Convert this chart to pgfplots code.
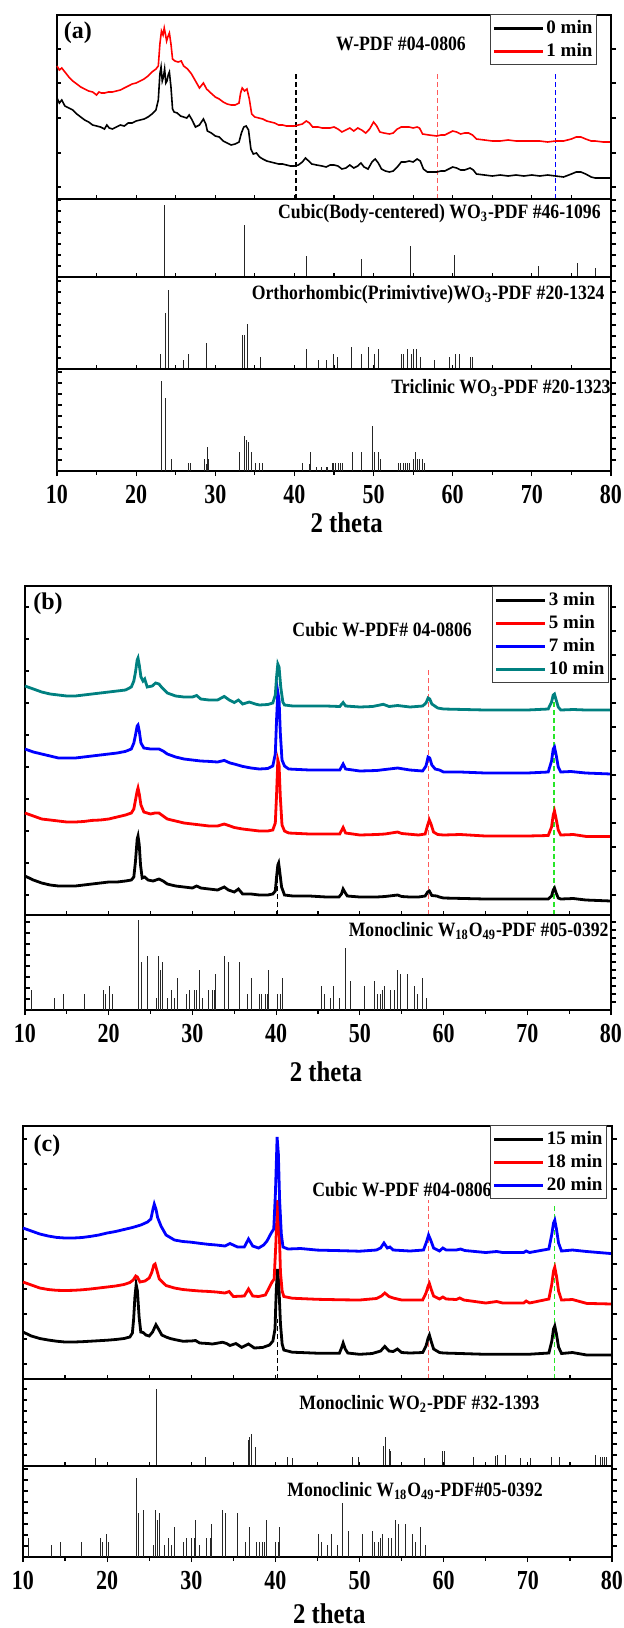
\documentclass[border=0pt]{standalone}
\usepackage{fontspec}
\setmainfont{Liberation Serif}
\usepackage{graphicx}
\usepackage{pgfplots}
\pgfplotsset{compat=1.18}
\newcommand\st[1]{\scalebox{1}[1.15]{#1}}
\newcommand\tk[1]{\scalebox{1}[1.25]{#1}}
\definecolor{tealc}{RGB}{0,128,128}
\definecolor{dred}{RGB}{255,90,90}
\definecolor{dgreen}{RGB}{40,230,40}
\tikzset{
  ann/.style={font=\fontsize{8.85}{9}\selectfont\bfseries, inner sep=0pt},
  lab/.style={font=\fontsize{12}{12}\selectfont\bfseries, inner sep=0pt},
  xl/.style={font=\fontsize{12.4}{12.4}\selectfont\bfseries, inner sep=0pt},
}
\pgfplotsset{
  xrd/.style={scale only axis, anchor=north west, xmin=10, xmax=80, ymin=0, clip=false,
    axis line style={line width=0.8pt},
    xtick={10,15,...,80}, xtick pos=left, xticklabels={}, ytick pos=left, yticklabels={},
    tick align=inside, major tick length=2.2pt, minor tick length=1.8pt,
    tick style={black, line width=0.6pt}},
  bottomx/.style={xtick={10,20,...,80}, minor xtick={15,25,...,75}, xtick pos=left,
    tick align=outside, major tick length=2.5pt, y tick style={xshift=2.5pt},
    xticklabel={\tk{\pgfmathprintnumber[assume math mode=true]{\tick}}},
    xticklabel style={font=\fontsize{11}{11}\selectfont\bfseries, inner sep=0pt, yshift=-4.3pt}},
  rt/.style={scale only axis, anchor=north west, xmin=10, xmax=80, ymin=0,
    hide x axis, axis y line*=right, axis line style={line width=0.8pt},
    yticklabels={}, tick align=outside, major tick length=2.5pt,
    tick style={black, line width=0.6pt}},
  stick/.style={ycomb, black!85, line width=0.5pt, mark=none},
  leg/.style={legend style={at={(1,1)}, anchor=north east, draw=black!75, line width=0.6pt,
     font=\fontsize{9.5}{9.5}\selectfont\bfseries, inner xsep=1pt, inner ysep=1pt, row sep=#1,
     nodes={inner sep=1pt, text height=7.5pt, text depth=2pt}, cells={anchor=west}},
     legend image code/.code={\draw[##1, line width=1.6pt] (0pt,0pt) -- (24.5pt,0pt);}},
  thin/.style={line width=0.8pt, mark=none},
  thick2/.style={line width=1.4pt, mark=none},
  dsh/.style={dash pattern=on 2.5pt off 1.5pt, line width=0.6pt, forget plot, mark=none},
}
\begin{document}
\begin{tikzpicture}
\useasboundingbox (0,0) rectangle (311.5pt,-814pt);
%================ (a) main
\begin{axis}[xrd, at={(28.5pt,-7.5pt)}, width=277pt, height=92pt, ymax=184,
  ytick={12,46,81,116,150}, leg=0pt, legend style={xshift=-7pt, yshift=0.5pt}]
\addplot[dsh, black] coordinates {(40.2,0) (40.2,128)};
\addplot[dsh, dred] coordinates {(58.1,0) (58.1,128)};
\addplot[dsh, blue] coordinates {(72.95,0) (72.95,128)};
\addplot[thin, black] coordinates {(10,101) (10.3,96) (10.6,99) (11,93) (11.5,91) (12,89) (12.5,85) (13,82) (13.5,79) (14,77) (14.5,74) (15,73) (15.5,72) (16,70) (16.3,74) (16.6,71) (17,70) (17.5,72) (18,74) (18.5,73) (19,76) (19.5,76) (20,78) (20.5,79) (21,80) (21.5,82) (22,85) (22.5,89) (22.8,99) (23.0,125) (23.15,132) (23.3,118) (23.45,122) (23.6,130) (23.75,116) (23.9,118) (24.05,124) (24.2,127) (24.4,112) (24.6,90) (24.8,87) (25.2,86) (25.6,83) (26,82) (26.4,81) (26.7,84) (27,80) (27.5,72) (28,74) (28.5,80) (28.8,75) (29,68) (29.5,66) (30,63) (30.5,62) (31,58) (31.5,56) (32,54) (32.5,55) (33,57) (33.3,66) (33.6,72) (33.9,73) (34.2,69) (34.5,50) (34.8,45) (35.2,46) (35.6,42) (36,40) (36.5,38) (37,37) (37.5,36) (38,35) (38.5,35) (39,34) (39.5,33) (40,33) (40.5,34) (41,37) (41.4,41) (41.8,38) (42.2,35) (42.8,34) (43.5,33) (44,32) (44.5,34) (45,34) (45.5,33) (46,30) (46.5,31) (47,34) (47.5,31) (48,33) (48.4,36) (48.8,32) (49.3,30) (49.8,37) (50.2,40) (50.6,36) (51,30) (51.5,28) (52,27) (52.5,28) (53,32) (53.5,37) (54,37) (54.5,38) (55,37) (55.5,40) (55.9,38) (56.3,30) (56.8,27) (57.5,27) (58,27) (58.5,28) (59,28) (59.5,30) (60,32) (60.5,31) (61,29) (61.5,29) (62.2,31) (62.6,29) (63,25) (64,24) (65,23) (66,24) (67,23) (68,24) (69,23) (70,24) (71,23) (72,24) (73,23) (74,22) (75,25) (75.6,27) (76.2,27) (76.8,25) (77.5,22) (78,21) (79,21) (80,21)};
\addlegendentry{0 min}
\addplot[thin, red] coordinates {(10,133) (10.3,129) (10.6,131) (11,127) (11.5,122) (12,118) (12.5,115) (13,112) (13.5,110) (14,108) (14.5,107) (15,104) (15.3,107) (15.6,106) (16,106) (16.5,107) (17,107) (17.5,108) (18,109) (18.5,111) (19,113) (19.5,115) (20,116) (20.5,118) (21,120) (21.5,123) (22,127) (22.5,130) (22.8,133) (23.0,155) (23.2,168) (23.4,164) (23.55,171) (23.7,165) (23.85,158) (24.0,162) (24.2,166) (24.4,155) (24.6,140) (24.9,138) (25.3,137) (25.7,138) (26,133) (26.5,130) (27,125) (27.5,118) (28,111) (28.5,116) (28.9,110) (29.3,107) (30,102) (30.5,100) (31,97) (31.5,95) (32,94) (32.5,94) (33,96) (33.2,106) (33.4,111) (33.7,108) (34,110) (34.3,100) (34.6,85) (35,82) (35.5,81) (36,80) (36.5,78) (37,77) (37.5,76) (38,74) (38.5,74) (39,73) (39.5,73) (40,73) (40.5,74) (41,75) (41.5,78) (41.9,76) (42.3,72) (43,72) (43.5,71) (44,71) (44.5,71) (45,72) (45.5,70) (46,67) (46.5,69) (47,71) (47.5,68) (48,71) (48.5,69) (49,66) (49.5,70) (50,77) (50.4,73) (50.8,67) (51.3,66) (52,65) (52.5,66) (53,70) (53.5,72) (54,72) (54.5,72) (55,71) (55.5,72) (55.8,71) (56.2,65) (57,64) (58,63) (58.5,64) (59,64) (59.5,66) (60,68) (60.5,67) (61,65) (61.5,66) (62,66) (62.5,64) (63,60) (64,59) (65,58) (66,58) (67,59) (68,58) (69,58) (70,58) (71,58) (72,57) (73,58) (74,58) (75,60) (75.6,62) (76.2,62) (76.8,60) (77.5,58) (78,58) (79,57) (80,57)};
\addlegendentry{1 min}
\node[lab] at (axis cs:12.65,166) {(a)};
\node[ann] at (axis cs:53.47,155) {\st{W-PDF \#04-0806}};
\end{axis}
\begin{axis}[rt, at={(28.5pt,-7.5pt)}, width=277pt, height=92pt, ymax=184, ytick={12,46,81,116,150}]
\addplot[draw=none] coordinates {(10,0)};
\end{axis}
%================ (a) cubic
\begin{axis}[xrd, at={(28.5pt,-99.5pt)}, width=277pt, height=39pt, ymax=78, ytick={11,22,...,77}]
\addplot[stick] coordinates {(23.6,72) (33.65,52) (41.5,21) (48.5,18) (54.7,31) (60.25,22) (70.8,11) (75.8,14) (78.1,9)};
\node[ann, anchor=east] at (axis cs:78.74,63) {\st{Cubic(Body-centered) WO\textsubscript{3}-PDF \#46-1096}};
\end{axis}
\begin{axis}[rt, at={(28.5pt,-99.5pt)}, width=277pt, height=39pt, ymax=78, ytick={11,22,...,77}]
\addplot[draw=none] coordinates {(10,0)};
\end{axis}
%================ (a) orthorhombic
\begin{axis}[xrd, at={(28.5pt,-138.5pt)}, width=277pt, height=46pt, ymax=92, ytick={11,22,...,88}]
\addplot[stick] coordinates {(23.1,15.5) (23.75,56) (24.15,79) (26.0,8.6) (26.6,15.5) (28.83,26.5) (33.4,34.5) (33.67,34.5) (34.07,45.5) (35.7,12) (41.58,19.7) (43.1,9.3) (44.1,9.3) (44.95,15.5) (45.5,12) (47.27,22.4) (48.5,15.5) (49.4,22.4) (50.1,15.5) (50.6,19.7) (53.56,15.5) (53.8,15.5) (54.3,19.7) (54.8,15.5) (55.1,19.7) (55.4,19.7) (55.9,12) (57.74,9.3) (59.6,12) (60.36,15.5) (60.9,15.5) (62.2,12) (62.5,12)};
\node[ann, anchor=east] at (axis cs:79.24,74) {\st{Orthorhombic(Primivtive)WO\textsubscript{3}-PDF \#20-1324}};
\end{axis}
\begin{axis}[rt, at={(28.5pt,-138.5pt)}, width=277pt, height=46pt, ymax=92, ytick={11,22,...,88}]
\addplot[draw=none] coordinates {(10,0)};
\end{axis}
%================ (a) triclinic
\begin{axis}[xrd, bottomx, at={(28.5pt,-184.5pt)}, width=277pt, height=51pt, ymax=102, ytick={11,22,...,99}]
\addplot[stick] coordinates {(10.1,100) (23.25,90) (23.75,72.8) (24.5,12.4) (26.57,8.3) (26.9,8.3) (28.6,12.4) (28.83,7.2) (29.0,23.8) (29.2,12.4) (33.07,18.6) (33.72,34.8) (33.97,30.7) (34.17,29) (34.58,18.6) (35.08,8.3) (35.58,8.3) (36.0,8.3) (41.07,8.3) (41.88,7.2) (42.03,18.6) (42.73,4) (43.4,4) (44.0,4) (44.24,4) (44.75,8.3) (45.0,8.3) (45.25,8.3) (45.6,8.3) (45.86,8.3) (46.1,8.3) (47.3,18.6) (48.48,18.6) (49.89,45.5) (50.14,18.6) (50.64,18.6) (50.9,12.4) (53.1,8.3) (53.46,8.3) (53.8,8.3) (54.06,8.3) (54.3,8.3) (54.57,8.3) (55.07,12.4) (55.3,18.6) (55.58,12.4) (55.83,12.4) (56.18,12.4) (56.43,8.3)};
\node[ann, anchor=east] at (axis cs:80,83) {\st{Triclinic WO\textsubscript{3}-PDF \#20-1323}};
\node[xl] at (axis cs:46.6,0) [yshift=-26pt] {\st{2 theta}};
\end{axis}
\begin{axis}[rt, at={(28.5pt,-184.5pt)}, width=277pt, height=51pt, ymax=102, ytick={11,22,...,99}]
\addplot[draw=none] coordinates {(10,0)};
\end{axis}
%================ (b) main
\begin{axis}[xrd, at={(12.5pt,-293pt)}, width=293pt, height=164.5pt, ymax=329,
  ytick={20,52,...,320}, leg=0pt, legend style={xshift=-1pt}]
\addplot[dsh, black] coordinates {(40.2,0) (40.2,50)};
\addplot[dsh, dred] coordinates {(58.2,0) (58.2,248)};
\addplot[dsh, dgreen] coordinates {(73.2,0) (73.2,221)};
\addplot[thick2, black] coordinates {(10,39) (11,35) (12,32) (13,30) (14,29) (15,29) (16,29) (17,30) (18,31) (19,32) (20,33) (21,33) (22,34) (22.7,35) (23.0,38) (23.2,54) (23.4,76) (23.5,79) (23.65,70) (23.8,50) (24.0,37) (24.3,38) (24.7,35) (25.3,34) (26,36) (26.5,34) (27,31) (28,29) (29,28) (30,27) (30.5,29) (31,27) (32,26) (33,25) (33.8,28) (34.3,25) (35,23) (35.5,26) (36,21) (37,21) (38,20) (39,20) (39.6,21) (39.9,24) (40.05,38) (40.2,50) (40.3,52) (40.45,42) (40.65,28) (41,20) (42,19) (44,19) (46,18) (47.5,18) (47.8,21) (48.0,26) (48.2,23) (48.5,19) (50,18) (52,18) (53,18.5) (54.5,20) (55,18.5) (56,18) (57,18) (57.8,19) (58.1,23) (58.3,24) (58.6,19.5) (59.2,19) (59.5,18) (60,17) (65,16) (70,16) (72.5,16) (72.9,19) (73.1,25) (73.25,27) (73.45,22) (73.7,17) (74,16) (75.5,16.5) (77,15) (80,14)};
\addlegendentry{3 min}
\addplot[thick2, red] coordinates {(10,102) (11,99) (12,96) (13,95) (14,94) (15,93) (16,93) (17,93.5) (18,94.6) (19,95) (20,96) (21,98) (22,100) (22.7,102) (23.0,106) (23.2,115) (23.4,124) (23.5,127) (23.65,121) (23.85,110) (24.2,103) (25,101) (25.5,102) (26,102) (26.5,99) (27,96) (28,94) (29,92) (30,91) (31,90) (32,89) (33,89) (33.8,91) (34.5,89) (35,87.5) (36,86) (37,85) (38,84) (39,84) (39.6,85) (39.9,92) (40.05,120) (40.2,155) (40.35,150) (40.5,118) (40.7,90) (41,84) (41.5,82) (44,81) (46,81) (47.6,81) (48.0,87.5) (48.3,82) (50,80) (52,80.5) (53,81) (54.5,83) (55,81.5) (57,80) (57.8,81) (58.1,90) (58.3,95) (58.5,91) (58.8,83) (59.3,80.5) (60,80) (62,80.5) (65,79) (70,79) (72.5,79.5) (72.9,88) (73.1,100) (73.25,104) (73.45,96) (73.7,85) (74,80) (75.5,80.5) (77,78.6) (80,78.6)};
\addlegendentry{5 min}
\addplot[thick2, blue] coordinates {(10,166) (11,163) (12,161) (13,159) (14,157) (15,157) (16,157) (17,158) (18,159) (19,160) (20,161) (21,162) (22,163.6) (22.7,166) (23.0,172) (23.2,180) (23.4,189) (23.5,190) (23.65,184) (23.85,172) (24.2,167) (25,166) (25.5,166) (26,166) (26.5,164) (27,161) (28,158) (29,156) (30,155) (31,154) (32,153.6) (33,153) (33.8,154.6) (34.5,152) (35,151) (36,148.6) (37,147) (38,146) (39,146.5) (39.6,149) (39.9,161) (40.05,195) (40.2,223) (40.35,215) (40.5,182) (40.7,155) (41,149) (41.5,146) (44,145) (46,145) (47.6,145) (48.0,151) (48.3,146) (50,144) (52,144.5) (54.5,147) (56,145) (57.5,144) (57.9,149) (58.15,158) (58.35,157) (58.6,150) (59,146) (59.5,145) (60,143) (62,143) (65,142) (70,142) (72.5,143) (72.9,154) (73.1,166) (73.25,168) (73.45,160) (73.7,148) (74,143) (75.2,143.5) (77,142) (80,141)};
\addlegendentry{7 min}
\addplot[thick2, tealc] coordinates {(10,229) (11,226) (12,223) (13,221) (14,220) (15,219) (16,219) (17,220) (18,221) (19,222) (20,223) (21,224) (22,225) (22.7,228) (23.0,234) (23.2,243) (23.4,255) (23.5,257) (23.65,250) (23.85,238) (24.1,234) (24.3,236) (24.6,228) (25.2,229) (25.6,232) (26.0,231) (26.4,227) (27,222) (28,219) (29,218) (30,218) (30.5,219.5) (31,216) (32,215) (33,215) (33.8,218.6) (34.4,215) (35,212.5) (35.5,215) (36,211) (36.8,213) (37.5,211) (38,210) (39,210.5) (39.6,212) (39.9,220) (40.05,238) (40.2,251) (40.35,248) (40.55,228) (40.8,213) (41,210) (42,209) (44,209) (46,209) (47.6,208.5) (48.0,212.5) (48.3,209) (50,208) (51.5,208.5) (52.8,210.7) (53.5,208.5) (54.5,209.5) (56,208) (57.5,209) (57.9,212) (58.15,217) (58.35,216) (58.6,211) (59.3,207) (60,206) (65,205) (70,205) (72.5,206) (72.9,213) (73.1,220) (73.25,221) (73.45,215) (73.7,208) (74,205) (75.5,205.5) (77,205) (80,205)};
\addlegendentry{10 min}
\node[lab] at (axis cs:12.75,311) {(b)};
\node[ann] at (axis cs:52.66,285) {\st{Cubic W-PDF\# 04-0806}};
\end{axis}
\begin{axis}[rt, at={(12.5pt,-293pt)}, width=293pt, height=164.5pt, ymax=329, ytick={20,44,...,320}]
\addplot[draw=none] coordinates {(10,0)};
\end{axis}
%================ (b) sticks
\begin{axis}[xrd, bottomx, at={(12.5pt,-457.5pt)}, width=293pt, height=47.5pt, ymax=95, ytick={11,22,...,88}]
\addplot[stick] coordinates {(10.76,20) (13.58,12.5) (14.58,16) (17.07,16) (19.36,20) (19.6,16) (20.08,24) (20.46,16) (23.6,90) (23.94,48) (24.6,53.6) (25.66,12) (26.0,53.6) (26.24,40) (26.43,48) (27.05,12) (27.48,20) (27.86,12) (28.2,32) (29.34,16) (29.68,20) (30.3,20) (30.53,20) (30.82,40) (31.25,12) (31.97,20) (32.35,20) (32.59,20) (32.73,36) (33.88,53.6) (34.3,48) (35.64,48) (36.6,16) (37.08,32) (38.03,16) (38.27,16) (38.75,16) (38.94,16) (39.13,40) (40.18,16) (40.5,16) (40.75,32) (45.39,24) (45.72,16) (46.44,12) (46.9,24) (47.58,12) (48.25,62) (48.87,28.6) (50.5,24) (51.69,28.6) (52.07,16) (52.5,16) (52.69,20) (52.98,24) (53.7,20) (54.08,20) (54.5,40) (54.9,36) (55.75,36) (56.47,24) (56.9,16) (57.52,32) (58.0,12)};
\node[ann, anchor=east] at (axis cs:79.76,79) {\st{Monoclinic W\textsubscript{18}O\textsubscript{49}-PDF \#05-0392}};
\node[xl] at (axis cs:45.95,0) [yshift=-31pt] {\st{2 theta}};
\end{axis}
\begin{axis}[rt, at={(12.5pt,-457.5pt)}, width=293pt, height=47.5pt, ymax=95, ytick={8,16,...,92}]
\addplot[draw=none] coordinates {(10,0)};
\end{axis}
%================ (c) main
\begin{axis}[xrd, at={(11.5pt,-563pt)}, width=294.5pt, height=126.5pt, ymax=253,
  ytick={15,40,...,240}, leg=0pt, legend style={xshift=-2.5pt, yshift=0.5pt}]
\addplot[dsh, black] coordinates {(40.2,0) (40.2,60)};
\addplot[dsh, dred] coordinates {(58.2,0) (58.2,178.7)};
\addplot[dsh, dgreen] coordinates {(73.15,0) (73.15,175)};
\addplot[thick2, black] coordinates {(10,47) (11,43) (12,40.5) (13,39) (14,37.8) (15,37) (16,37) (17,37.3) (18,37.8) (19,38.3) (20,38.8) (21,39.5) (22,40.5) (22.7,42) (23.0,46) (23.15,60) (23.3,82) (23.45,94.5) (23.6,88) (23.8,62) (24.0,47) (24.3,46.4) (24.6,44) (25,43) (25.4,47) (25.8,54.3) (26.1,50) (26.5,44) (27,42) (27.5,40.5) (28,39.5) (29,37.8) (30,38) (30.5,38.5) (31,36) (32,35.5) (32.5,35) (33.2,36) (33.7,36.8) (34.2,35.5) (34.6,33.5) (35.3,35.5) (36,31.6) (36.8,35) (37.5,31) (38.5,31.6) (39.3,34) (39.7,38) (39.95,50) (40.1,89) (40.25,110) (40.4,95) (40.6,55) (40.8,35) (41,29) (42,26.8) (43,26.5) (45,25.8) (47.6,25.8) (47.9,32) (48.05,36) (48.3,30) (48.6,26) (50,24.7) (51.5,25.5) (52.5,28) (53,32.6) (53.5,28) (54,27.5) (54.5,30) (55,26.5) (56,26) (57.5,26.5) (57.9,33) (58.15,41) (58.3,44) (58.5,38) (58.8,30) (59.5,26.5) (60,26) (62,25.5) (65,24.7) (70,24.7) (72.5,26) (72.85,38) (73.05,50) (73.2,53) (73.4,45) (73.65,32) (74,25.5) (75.3,26.5) (77,24) (80,24)};
\addlegendentry{15 min}
\addplot[thick2, red] coordinates {(10,97) (11,94) (12,91) (13,89.5) (14,88.7) (15,88.5) (16,88.7) (17,89.2) (18,90) (19,91) (20,92) (21,93) (22,94.5) (22.7,96.5) (23.1,99) (23.4,103) (23.6,102) (23.9,97) (24.5,98) (25.0,101) (25.3,106.5) (25.55,114) (25.7,115) (25.9,109) (26.2,100) (27,93.5) (28,91) (29,89.5) (30,88.7) (31,88) (32,87.6) (33,87) (34,86) (34.5,87.5) (35,82.5) (36.3,83) (36.8,90) (37.3,83) (38,82.5) (38.8,84) (39.3,92) (39.6,97) (39.85,100) (40.05,135) (40.25,178.7) (40.4,165) (40.6,106.5) (40.8,88) (41,82.5) (42,80.8) (45,79.7) (48,79.2) (50,79) (52,80.5) (52.6,83) (53,86) (53.5,82.5) (54,81) (55,79) (57.5,79) (57.9,86) (58.15,93) (58.3,95.5) (58.5,90) (58.8,83) (59.5,80) (59.9,82) (60.3,80) (61.5,79.5) (61.9,81) (62.4,79) (65,76) (66.3,77.5) (67,76) (69.5,76) (69.8,78) (70.2,76) (72.5,80) (72.85,95) (73.05,108) (73.2,111.7) (73.4,103) (73.65,88) (74,79) (75.3,79.5) (77,75.6) (80,75)};
\addlegendentry{18 min}
\addplot[thick2, blue] coordinates {(10,151) (11,148) (12,145) (13,143) (14,141.6) (15,141) (16,141) (17,141.5) (18,142.6) (19,144) (20,146) (21,147.5) (22,149.5) (23,151.5) (24,154) (24.8,157) (25.2,160) (25.45,170) (25.6,175) (25.8,170) (26.0,161.5) (26.4,153) (27,144) (28,139) (29,137.5) (30,136.8) (31,135.7) (32,134.7) (33,134) (34,133) (34.6,135.5) (35.5,132) (36.3,132) (36.8,140) (37.3,133) (38,131) (38.6,134) (39,138) (39.5,146) (39.8,150) (40.0,185.6) (40.2,242) (40.35,225) (40.5,178.7) (40.7,145) (40.9,132) (41.5,130) (43,130.5) (45,128.9) (48,128.3) (50,127.8) (52,129) (52.5,131) (52.9,136) (53.3,131) (53.6,132) (54,129) (56,128) (57.6,129) (57.95,137) (58.2,144) (58.45,139) (58.8,131) (59.5,128) (59.9,131) (60.3,129) (61.5,129) (62,130) (62.5,128.5) (65,126.5) (66.3,127.5) (67,126.5) (69.5,126.5) (69.8,128) (70.2,126.5) (72.5,130) (72.85,145) (73.05,156) (73.2,158.8) (73.4,150) (73.65,136) (74,128) (75.3,129) (77,127.5) (80,125.4)};
\addlegendentry{20 min}
\node[lab] at (axis cs:12.85,233) {(c)};
\node[ann] at (axis cs:55.04,189) {\st{Cubic W-PDF \#04-0806}};
\end{axis}
\begin{axis}[rt, at={(11.5pt,-563pt)}, width=294.5pt, height=126.5pt, ymax=253, ytick={15,40,...,240}]
\addplot[draw=none] coordinates {(10,0)};
\end{axis}
%================ (c) WO2
\begin{axis}[xrd, at={(11.5pt,-689.5pt)}, width=294.5pt, height=43.5pt, ymax=87, ytick={11,22,...,77}]
\addplot[stick] coordinates {(18.59,8) (25.9,77) (31.69,8.6) (36.77,25.8) (36.96,29) (37.15,32) (37.62,19) (41.42,8.6) (42.08,8) (49.2,8.6) (49.82,8.6) (52.9,20) (53.05,29) (53.52,17) (53.66,14.8) (57.7,8) (59.83,14.8) (60.07,14.8) (63.49,8.6) (66.15,9.6) (66.34,11.3) (67.33,11.3) (69.14,8) (70.32,8) (72.79,8.6) (73.74,8.6) (78.0,10.6) (78.63,8.6) (78.87,8.6) (79.1,8.6) (79.34,8.6)};
\node[ann] at (axis cs:57.12,62) {\st{Monoclinic WO\textsubscript{2}-PDF \#32-1393}};
\end{axis}
\begin{axis}[rt, at={(11.5pt,-689.5pt)}, width=294.5pt, height=43.5pt, ymax=87, ytick={11,22,...,77}]
\addplot[draw=none] coordinates {(10,0)};
\end{axis}
%================ (c) W18O49
\begin{axis}[xrd, bottomx, at={(11.5pt,-733pt)}, width=294.5pt, height=45.5pt, ymax=91, ytick={11,22,...,88}]
\addplot[stick] coordinates {(10.6,19) (13.4,12) (14.4,15.5) (16.93,15.5) (19.16,19) (19.4,15.5) (19.87,22.7) (20.2,15.5) (23.43,79) (23.76,44) (24.33,47.4) (25.47,12) (25.8,47.4) (26.04,37) (26.18,44) (26.8,12) (27.28,19) (27.7,12) (28.03,29.6) (29.08,15.5) (29.46,19) (30.03,19) (30.36,19) (30.55,37) (31.03,12) (31.83,19) (32.3,19) (32.45,33) (33.68,47.4) (34.1,44) (35.44,44) (36.44,15.5) (36.91,29.6) (37.81,15.5) (38.05,15.5) (38.52,15.5) (38.7,15.5) (38.9,37) (39.99,15.5) (40.33,15.5) (40.52,29.6) (45.12,22.7) (45.5,15.5) (46.21,12) (46.69,22.7) (47.35,12) (48.02,53.6) (48.68,26) (50.3,22.7) (51.48,26) (51.81,15.5) (52.24,15.5) (52.48,19) (52.76,22.7) (53.47,19) (53.85,19) (54.28,37) (54.66,33) (55.47,33) (56.27,22.7) (56.65,15.5) (57.27,29.6) (57.84,12)};
\node[ann] at (axis cs:56.59,66) {\st{Monoclinic W\textsubscript{18}O\textsubscript{49}-PDF\#05-0392}};
\node[xl] at (axis cs:46.4,0) [yshift=-28.5pt] {\st{2 theta}};
\end{axis}
\begin{axis}[rt, at={(11.5pt,-733pt)}, width=294.5pt, height=45.5pt, ymax=91, ytick={11,22,...,88}]
\addplot[draw=none] coordinates {(10,0)};
\end{axis}
\end{tikzpicture}
\end{document}
